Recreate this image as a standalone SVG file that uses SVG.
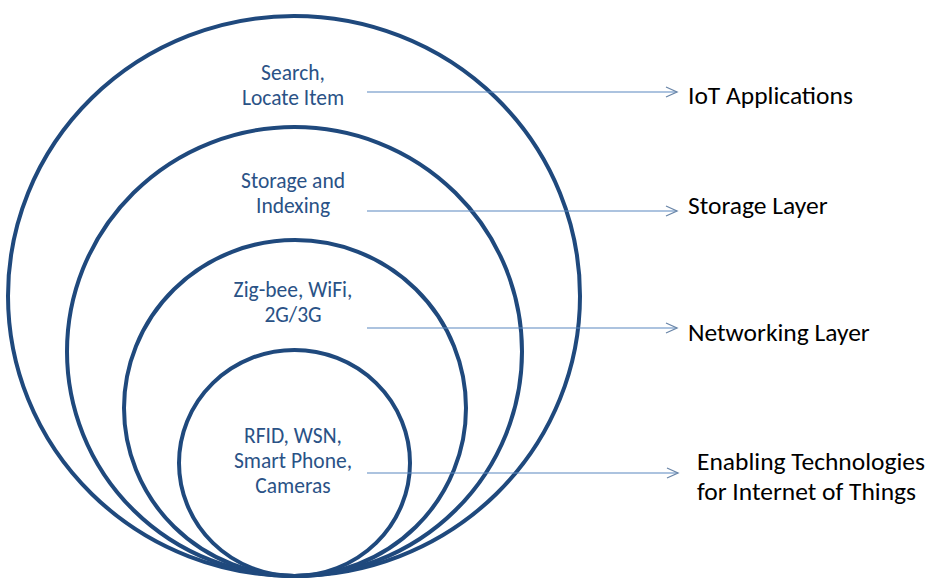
<svg xmlns="http://www.w3.org/2000/svg" width="932" height="584" viewBox="0 0 932 584">
<style>
.ring{fill:none;stroke:#1F497D;stroke-width:4}
.in{font-family:Carlito,"Open Sans","Liberation Sans",sans-serif;font-size:21.5px;fill:#2A5286;text-anchor:middle}
.out{font-family:Carlito,"Open Sans","Liberation Sans",sans-serif;font-size:25.5px;fill:#000}
.conn{stroke:#5B87C0;stroke-width:1.2;fill:none}
</style>
<defs>
<marker id="arr" markerWidth="14" markerHeight="14" refX="12" refY="6" orient="auto" markerUnits="userSpaceOnUse">
<path d="M1,1 L12,6 L1,11" fill="none" stroke="#6A86A8" stroke-width="1.3"/>
</marker>
</defs>
<rect width="932" height="584" fill="#fff"/>
<g id="ring-applications"><ellipse class="ring" cx="294" cy="296" rx="286" ry="280"/></g>
<g id="ring-storage"><ellipse class="ring" cx="294.5" cy="351.5" rx="227.5" ry="224.5"/></g>
<g id="ring-networking"><ellipse class="ring" cx="295" cy="408" rx="171" ry="168"/></g>
<g id="ring-enabling"><ellipse class="ring" cx="294.5" cy="463" rx="115.5" ry="113"/></g>
<g id="connectors">
<line class="conn" x1="367" y1="92" x2="677" y2="92" marker-end="url(#arr)"/>
<line class="conn" x1="367" y1="211" x2="677" y2="211" marker-end="url(#arr)"/>
<line class="conn" x1="367" y1="328" x2="677" y2="328" marker-end="url(#arr)"/>
<line class="conn" x1="367" y1="473" x2="678" y2="473" marker-end="url(#arr)"/>
</g>
<g id="label-applications">
<text class="in" x="293" y="80">Search,</text>
<text class="in" x="293" y="105">Locate Item</text>
<text class="out" x="688" y="104">IoT Applications</text>
</g>
<g id="label-storage">
<text class="in" x="293" y="188">Storage and</text>
<text class="in" x="293" y="213">Indexing</text>
<text class="out" x="688" y="214">Storage Layer</text>
</g>
<g id="label-networking">
<text class="in" x="293" y="297">Zig-bee, WiFi,</text>
<text class="in" x="293" y="322">2G/3G</text>
<text class="out" x="688" y="341">Networking Layer</text>
</g>
<g id="label-enabling">
<text class="in" x="293" y="443">RFID, WSN,</text>
<text class="in" x="293" y="468">Smart Phone,</text>
<text class="in" x="293" y="493">Cameras</text>
<text class="out" x="697" y="470">Enabling Technologies</text>
<text class="out" x="697" y="500">for Internet of Things</text>
</g>
</svg>
